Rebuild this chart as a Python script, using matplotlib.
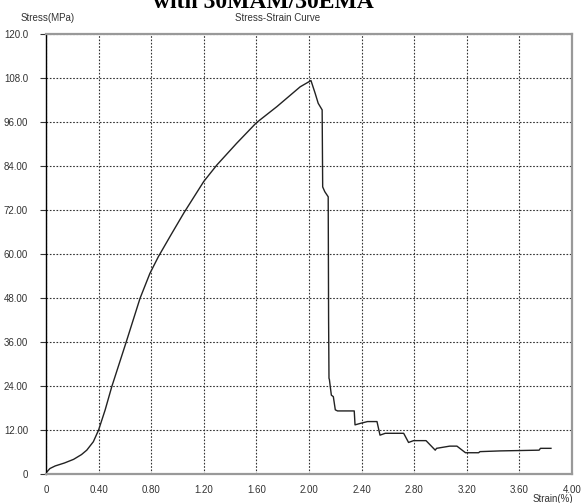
import matplotlib.pyplot as plt
import numpy as np

# strain (%) and stress (MPa)
strain = [0.0, 0.03, 0.07, 0.14, 0.21, 0.27, 0.31, 0.36, 0.40, 0.45, 0.50, 0.61,
          0.715, 0.79, 0.855, 0.95, 1.05, 1.20, 1.30, 1.45, 1.60, 1.756, 1.933,
          2.015, 2.047, 2.07, 2.10, 2.104, 2.12, 2.146, 2.149, 2.152, 2.155,
          2.17, 2.185, 2.20, 2.217, 2.344, 2.35, 2.39, 2.445, 2.517, 2.54, 2.58,
          2.72, 2.757, 2.795, 2.89, 2.96, 2.97, 3.07, 3.125, 3.19, 3.29, 3.30,
          3.455, 3.75, 3.76, 3.84]
stress = [0.3, 1.5, 2.2, 3.0, 4.0, 5.3, 6.5, 8.8, 12.0, 17.5, 23.8, 36.0,
          47.9, 54.7, 59.3, 65.2, 71.3, 79.8, 84.3, 90.2, 95.8, 100.2, 105.6,
          107.3, 103.8, 101.1, 99.3, 78.3, 77.0, 75.6, 42.0, 26.1, 25.8,
          21.5, 21.1, 17.5, 17.2, 17.2, 13.4, 13.8, 14.3, 14.3, 10.6, 11.1,
          11.1, 8.6, 9.1, 9.1, 6.5, 7.0, 7.6, 7.6, 5.8, 5.8, 6.1,
          6.3, 6.5, 7.0, 7.0]

xticks = [0, 0.4, 0.8, 1.2, 1.6, 2.0, 2.4, 2.8, 3.2, 3.6, 4.0]
xlabels = ['0', '0.40', '0.80', '1.20', '1.60', '2.00', '2.40', '2.80', '3.20', '3.60', '4.00']
yticks = [0, 12, 24, 36, 48, 60, 72, 84, 96, 108, 120]
ylabels = ['0', '12.00', '24.00', '36.00', '48.00', '60.00', '72.00', '84.00', '96.00', '108.0', '120.0']

plt.rcParams['font.family'] = ['Liberation Sans', 'DejaVu Sans']

fig = plt.figure(figsize=(5.82, 5.03), dpi=100)
ax = fig.add_axes([46 / 582, 29 / 503, 526 / 582, 440 / 503])

ax.plot(strain, stress, color='#222222', lw=1.0)

ax.set_xlim(0, 4.0)
ax.set_ylim(0, 120)
ax.set_xticks(xticks)
ax.set_xticklabels(xlabels)
ax.set_yticks(yticks)
ax.set_yticklabels(ylabels)
ax.tick_params(axis='x', length=0, pad=8, labelsize=7, colors='#333333')
ax.tick_params(axis='y', length=4, width=0.8, pad=9, labelsize=7, colors='#333333')
ax.grid(True, color='#333333', linestyle=(0, (1.5, 1.5)), lw=0.8)

ax.spines['left'].set_color('black')
ax.spines['left'].set_linewidth(1.0)
for s in ['top', 'bottom', 'right']:
    ax.spines[s].set_color('#999999')
    ax.spines[s].set_linewidth(1.6)

# title is cropped at the top edge in the original
fig.text(263 / 582, 1 - 8 / 503, 'with 30MAM/30EMA', family='Liberation Serif',
         weight='bold', fontsize=17, ha='center', va='baseline')
fig.text(48 / 582, 1 - 18 / 503, 'Stress(MPa)', fontsize=7, ha='center', va='center',
         color='#333333')
fig.text(278 / 582, 1 - 18 / 503, 'Stress-Strain Curve', fontsize=7, ha='center',
         va='center', color='#333333')
fig.text(573 / 582, 1 - 499 / 503, 'Strain(%)', fontsize=7, ha='right', va='center',
         color='#333333')

fig.savefig('out.png', dpi=100)
